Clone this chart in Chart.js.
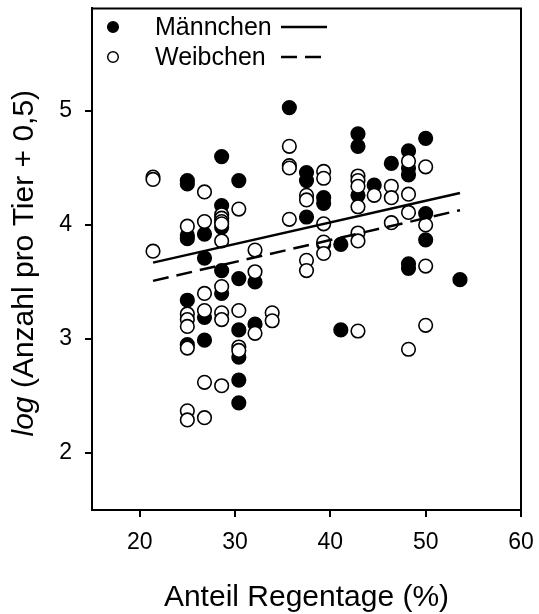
<!DOCTYPE html>
<html>
<head>
<meta charset="utf-8">
<script src="https://cdn.jsdelivr.net/npm/chart.js@4.4.1/dist/chart.umd.min.js"></script>
<style>
  body { margin: 0; background: #fff; }
</style>
</head>
<body>
<canvas id="chart" width="539" height="614"></canvas>
<script>
// Männchen (filled circles)
const maleX = [25, 25, 25, 25, 25, 25,
  26.8, 26.8, 26.8, 26.8,
  28.6, 28.6, 28.6, 28.6, 28.6,
  30.4, 30.4, 30.4, 30.4, 30.4, 30.4,
  32.1, 32.1,
  35.7,
  37.5, 37.5, 37.5,
  39.3, 39.3, 39.3,
  41.1, 41.1,
  42.9, 42.9, 42.9,
  44.6,
  46.4,
  48.2, 48.2, 48.2, 48.2, 48.2,
  50, 50, 50,
  53.6];
const maleY = [4.39, 4.36, 3.91, 3.88, 3.34, 2.95,
  3.92, 3.71, 3.19, 2.99,
  4.60, 4.17, 3.98, 3.60, 3.40,
  4.39, 3.53, 3.08, 2.84, 2.64, 2.44,
  3.50, 3.13,
  5.03,
  4.46, 4.39, 4.07,
  4.24, 4.19, 3.83,
  3.83, 3.08,
  4.80, 4.69, 4.26,
  4.35,
  4.54,
  4.65, 4.50, 4.44, 3.66, 3.62,
  4.76, 4.10, 3.87,
  3.52];

// Weibchen (open circles)
const femaleX = [21.4, 21.4, 21.4,
  25, 25, 25, 25, 25, 25, 25,
  26.8, 26.8, 26.8, 26.8, 26.8, 26.8,
  28.6, 28.6, 28.6, 28.6, 28.6, 28.6, 28.6, 28.6, 28.6,
  30.4, 30.4, 30.4, 30.4,
  32.1, 32.1, 32.1,
  33.9, 33.9,
  35.7, 35.7, 35.7, 35.7,
  37.5, 37.5, 37.5, 37.5,
  39.3, 39.3, 39.3, 39.3, 39.3,
  42.9, 42.9, 42.9, 42.9, 42.9, 42.9, 42.9,
  44.6,
  46.4, 46.4, 46.4,
  48.2, 48.2, 48.2, 48.2,
  50, 50, 50, 50];
const femaleY = [4.42, 4.40, 3.77,
  3.99, 3.22, 3.17, 3.11, 2.92, 2.37, 2.29,
  4.29, 4.03, 3.40, 3.25, 2.62, 2.31,
  4.09, 4.06, 4.03, 4.01, 3.86, 3.46, 3.23, 3.17, 2.59,
  4.14, 3.25, 2.93, 2.90,
  3.78, 3.59, 3.05,
  3.23, 3.16,
  4.69, 4.52, 4.50, 4.05,
  4.26, 4.22, 3.69, 3.60,
  4.47, 4.41, 4.01, 3.85, 3.75,
  4.43, 4.39, 4.34, 4.16, 3.93, 3.86, 3.07,
  4.26,
  4.34, 4.24, 4.02,
  4.56, 4.27, 4.11, 2.91,
  4.51, 4.00, 3.64, 3.12];

// regression lines (ends)
const fitX = [21.4, 53.6];
const fitMaleY = [3.67, 4.28];
const fitFemaleY = [3.51, 4.13];

const xTicks = [20, 30, 40, 50, 60];
const yTicks = [2, 3, 4, 5];

const FONT = "'Liberation Sans', Arial, sans-serif";

function toPoints(xs, ys) {
  return xs.map((x, i) => ({ x: x, y: ys[i] }));
}

// frame on top and right side
const framePlugin = {
  id: "frame",
  afterDraw(chart) {
    const { ctx, chartArea: a } = chart;
    ctx.save();
    ctx.strokeStyle = "#000";
    ctx.lineWidth = 2;
    ctx.beginPath();
    ctx.moveTo(a.left, a.top);
    ctx.lineTo(a.right, a.top);
    ctx.lineTo(a.right, a.bottom);
    ctx.stroke();
    ctx.restore();
  }
};

// y title with italic "log"
const yTitlePlugin = {
  id: "yTitle",
  afterDraw(chart) {
    const ctx = chart.ctx;
    const a = chart.chartArea;
    const part1 = "log";
    const part2 = " (Anzahl pro Tier + 0,5)";
    ctx.save();
    ctx.fillStyle = "#000";
    ctx.font = "italic 30px " + FONT;
    const w1 = ctx.measureText(part1).width;
    ctx.font = "30px " + FONT;
    const w2 = ctx.measureText(part2).width;
    ctx.translate(33, (a.top + a.bottom) / 2 + 4);
    ctx.rotate(-Math.PI / 2);
    ctx.textBaseline = "alphabetic";
    ctx.textAlign = "left";
    const start = -(w1 + w2) / 2;
    ctx.font = "italic 30px " + FONT;
    ctx.fillText(part1, start, 0);
    ctx.font = "30px " + FONT;
    ctx.fillText(part2, start + w1, 0);
    ctx.restore();
  }
};

// legend: marker, label, line sample
const legendPlugin = {
  id: "customLegend",
  afterDraw(chart) {
    const ctx = chart.ctx;
    const rows = [
      { ds: chart.data.datasets[0], line: chart.data.datasets[2], y: 27 },
      { ds: chart.data.datasets[1], line: chart.data.datasets[3], y: 57 }
    ];
    ctx.save();
    rows.forEach(r => {
      ctx.beginPath();
      ctx.arc(113, r.y, 5.3, 0, Math.PI * 2);
      ctx.fillStyle = r.ds.backgroundColor;
      ctx.fill();
      ctx.lineWidth = 1.5;
      ctx.strokeStyle = "#000";
      ctx.stroke();

      ctx.fillStyle = "#000";
      ctx.font = "25px " + FONT;
      ctx.textBaseline = "middle";
      ctx.fillText(r.ds.label, 155, r.y + 1);

      ctx.beginPath();
      ctx.setLineDash(r.line.borderDash || []);
      ctx.lineWidth = r.line.borderWidth;
      ctx.moveTo(281, r.y);
      ctx.lineTo(327, r.y);
      ctx.stroke();
      ctx.setLineDash([]);
    });
    ctx.restore();
  }
};

function fixX(scale) {
  scale.height = 104;
  scale.paddingLeft = 0;
  scale.paddingRight = 0;
}
function fixY(scale) {
  scale.width = 92;
  scale.paddingTop = 0;
  scale.paddingBottom = 0;
}

const ctx = document.getElementById("chart").getContext("2d");
const chart = new Chart(ctx, {
  type: "scatter",
  data: {
    datasets: [
      {
        label: "Männchen",
        data: toPoints(maleX, maleY),
        backgroundColor: "#000",
        borderColor: "#000",
        borderWidth: 1.6,
        pointRadius: 6.8,
        order: 3
      },
      {
        label: "Weibchen",
        data: toPoints(femaleX, femaleY),
        backgroundColor: "#fff",
        borderColor: "#000",
        borderWidth: 1.6,
        pointRadius: 6.8,
        order: 2
      },
      {
        type: "line",
        label: "fit Männchen",
        data: toPoints(fitX, fitMaleY),
        borderColor: "#000",
        borderWidth: 2.5,
        pointRadius: 0,
        fill: false,
        order: 1
      },
      {
        type: "line",
        label: "fit Weibchen",
        data: toPoints(fitX, fitFemaleY),
        borderColor: "#000",
        borderWidth: 2.5,
        borderDash: [16, 8],
        pointRadius: 0,
        fill: false,
        order: 0
      }
    ]
  },
  options: {
    responsive: false,
    animation: false,
    layout: { padding: { top: 8, right: 18, left: 0, bottom: 0 } },
    plugins: {
      legend: { display: false },
      tooltip: { enabled: false }
    },
    scales: {
      x: {
        type: "linear",
        min: 15,
        max: 60,
        afterBuildTicks: s => { s.ticks = xTicks.map(v => ({ value: v })); },
        afterFit: fixX,
        grid: { drawOnChartArea: false, drawTicks: true, tickLength: 7, color: "#000", lineWidth: 2 },
        border: { display: true, color: "#000", width: 2 },
        ticks: { color: "#000", padding: 12, font: { family: FONT, size: 23 }, maxRotation: 0 },
        title: {
          display: true,
          text: "Anteil Regentage (%)",
          color: "#000",
          font: { family: FONT, size: 30, lineHeight: 1 },
          padding: { top: 0, bottom: 1 }
        }
      },
      y: {
        type: "linear",
        min: 1.5,
        max: 5.9,
        afterBuildTicks: s => { s.ticks = yTicks.map(v => ({ value: v })); },
        afterFit: fixY,
        grid: { drawOnChartArea: false, drawTicks: true, tickLength: 7, color: "#000", lineWidth: 2 },
        border: { display: true, color: "#000", width: 2 },
        ticks: { color: "#000", padding: 13, font: { family: FONT, size: 23 } }
      }
    }
  },
  plugins: [framePlugin, yTitlePlugin, legendPlugin]
});
</script>
</body>
</html>
